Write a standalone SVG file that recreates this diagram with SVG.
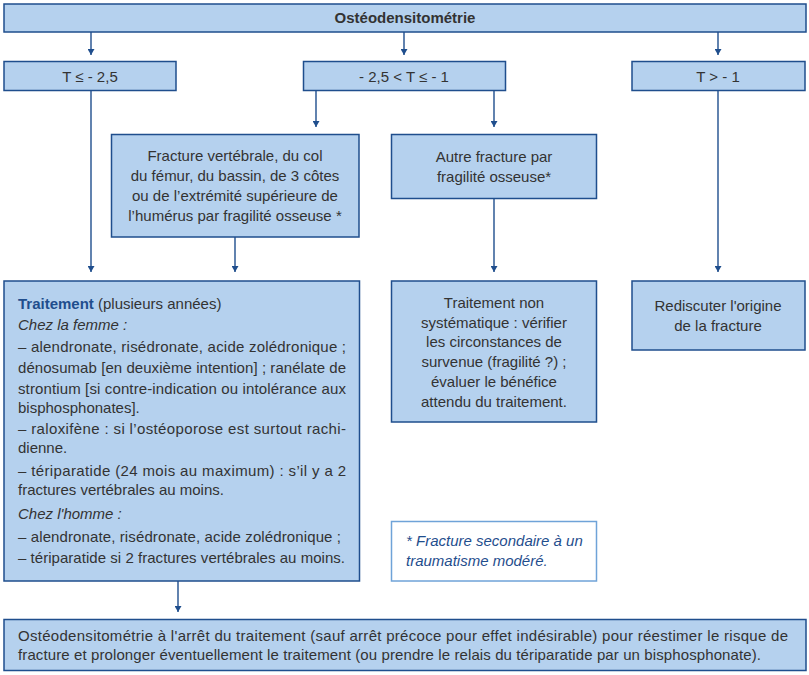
<svg xmlns="http://www.w3.org/2000/svg" width="809" height="675" viewBox="0 0 809 675">
<defs>
<style>
.box{fill:#b5d1ee;stroke:#1f4e8d;stroke-width:1.5}
.note{fill:#ffffff;stroke:#6fa3d8;stroke-width:1.5}
.t{font-family:"Liberation Sans",Arial,sans-serif;font-size:15px;fill:#333333}
.c{text-anchor:middle}
.b{font-weight:bold}
.i{font-style:italic}
.blue{fill:#1f4e8d}
.con{stroke:#1f4e8d;stroke-width:1.4;fill:none;marker-end:url(#ah)}
</style>
<marker id="ah" markerUnits="userSpaceOnUse" viewBox="0 0 6 7" refX="6" refY="3.5" markerWidth="6" markerHeight="7" orient="auto">
<path d="M0,0 L6,3.5 L0,7 z" fill="#1f4e8d"/>
</marker>
</defs>
<rect width="809" height="675" fill="#ffffff"/>
<g id="connectors">
<path class="con" d="M91,32 V55"/>
<path class="con" d="M404,32 V55"/>
<path class="con" d="M718,32 V55"/>
<path class="con" d="M316,90 V127"/>
<path class="con" d="M494,90 V127"/>
<path class="con" d="M91,90 V272"/>
<path class="con" d="M235,237 V272"/>
<path class="con" d="M494,199 V272"/>
<path class="con" d="M718,90 V272"/>
<path class="con" d="M178,581 V612"/>
</g>
<g id="osteo">
<rect class="box" x="4" y="4" width="802" height="28"/>
<text class="t c b" x="405" y="23">Ostéodensitométrie</text>
</g>
<g id="t1">
<rect class="box" x="4" y="61.5" width="172" height="29"/>
<text class="t c" x="90" y="81.5">T ≤ - 2,5</text>
</g>
<g id="t2">
<rect class="box" x="303.5" y="61.5" width="202" height="29"/>
<text class="t c" x="404" y="81.5">- 2,5 &lt; T ≤ - 1</text>
</g>
<g id="t3">
<rect class="box" x="632" y="61.5" width="173" height="29"/>
<text class="t c" x="718" y="81.5">T &gt; - 1</text>
</g>
<g id="fracture">
<rect class="box" x="111.5" y="134.5" width="247.5" height="102.5"/>
<text class="t c" x="235" y="161">Fracture vertébrale, du col</text>
<text class="t c" x="235" y="181">du fémur, du bassin, de 3 côtes</text>
<text class="t c" x="235" y="201">ou de l’extrémité supérieure de</text>
<text class="t c" x="235" y="221">l’humérus par fragilité osseuse *</text>
</g>
<g id="autre">
<rect class="box" x="391.5" y="134.5" width="205" height="64"/>
<text class="t c" x="494" y="162">Autre fracture par</text>
<text class="t c" x="494" y="182">fragilité osseuse*</text>
</g>
<g id="traitement">
<rect class="box" x="4" y="281" width="355.5" height="300"/>
<text class="t" x="18" y="309"><tspan class="b blue">Traitement</tspan> (plusieurs années)</text>
<text class="t i" x="18" y="330">Chez la femme :</text>
<text class="t" x="18" y="352" textLength="328" lengthAdjust="spacing">– alendronate, risédronate, acide zolédronique ;</text>
<text class="t" x="18" y="373" textLength="328" lengthAdjust="spacing">dénosumab [en deuxième intention] ; ranélate de</text>
<text class="t" x="18" y="394" textLength="328" lengthAdjust="spacing">strontium [si contre-indication ou intolérance aux</text>
<text class="t" x="18" y="413">bisphosphonates].</text>
<text class="t" x="18" y="434" textLength="328" lengthAdjust="spacing">– raloxifène : si l’ostéoporose est surtout rachi-</text>
<text class="t" x="18" y="453">dienne.</text>
<text class="t" x="18" y="476" textLength="328" lengthAdjust="spacing">– tériparatide (24 mois au maximum) : s’il y a 2</text>
<text class="t" x="18" y="495">fractures vertébrales au moins.</text>
<text class="t i" x="18" y="519">Chez l'homme :</text>
<text class="t" x="18" y="542" textLength="323" lengthAdjust="spacing">– alendronate, risédronate, acide zolédronique ;</text>
<text class="t" x="18" y="563" textLength="327" lengthAdjust="spacing">– tériparatide si 2 fractures vertébrales au moins.</text>
</g>
<g id="nonsys">
<rect class="box" x="391.5" y="281" width="205" height="141"/>
<text class="t c" x="494" y="308">Traitement non</text>
<text class="t c" x="494" y="327.5">systématique : vérifier</text>
<text class="t c" x="494" y="347">les circonstances de</text>
<text class="t c" x="494" y="367">survenue (fragilité ?) ;</text>
<text class="t c" x="494" y="387">évaluer le bénéfice</text>
<text class="t c" x="494" y="406.5">attendu du traitement.</text>
</g>
<g id="rediscuter">
<rect class="box" x="632" y="281" width="173" height="69"/>
<text class="t c" x="718" y="311">Rediscuter l'origine</text>
<text class="t c" x="718" y="330.5">de la fracture</text>
</g>
<g id="footnote">
<rect class="note" x="391.5" y="521.5" width="205" height="59.5"/>
<text class="t i blue" x="406" y="546">* Fracture secondaire à un</text>
<text class="t i blue" x="406" y="566">traumatisme modéré.</text>
</g>
<g id="arret">
<rect class="box" x="4" y="619.5" width="802" height="51"/>
<text class="t" x="18" y="641" textLength="770" lengthAdjust="spacing">Ostéodensitométrie à l'arrêt du traitement (sauf arrêt précoce pour effet indésirable) pour réestimer le risque de</text>
<text class="t" x="18" y="660" textLength="743" lengthAdjust="spacing">fracture et prolonger éventuellement le traitement (ou prendre le relais du tériparatide par un bisphosphonate).</text>
</g>
</svg>
